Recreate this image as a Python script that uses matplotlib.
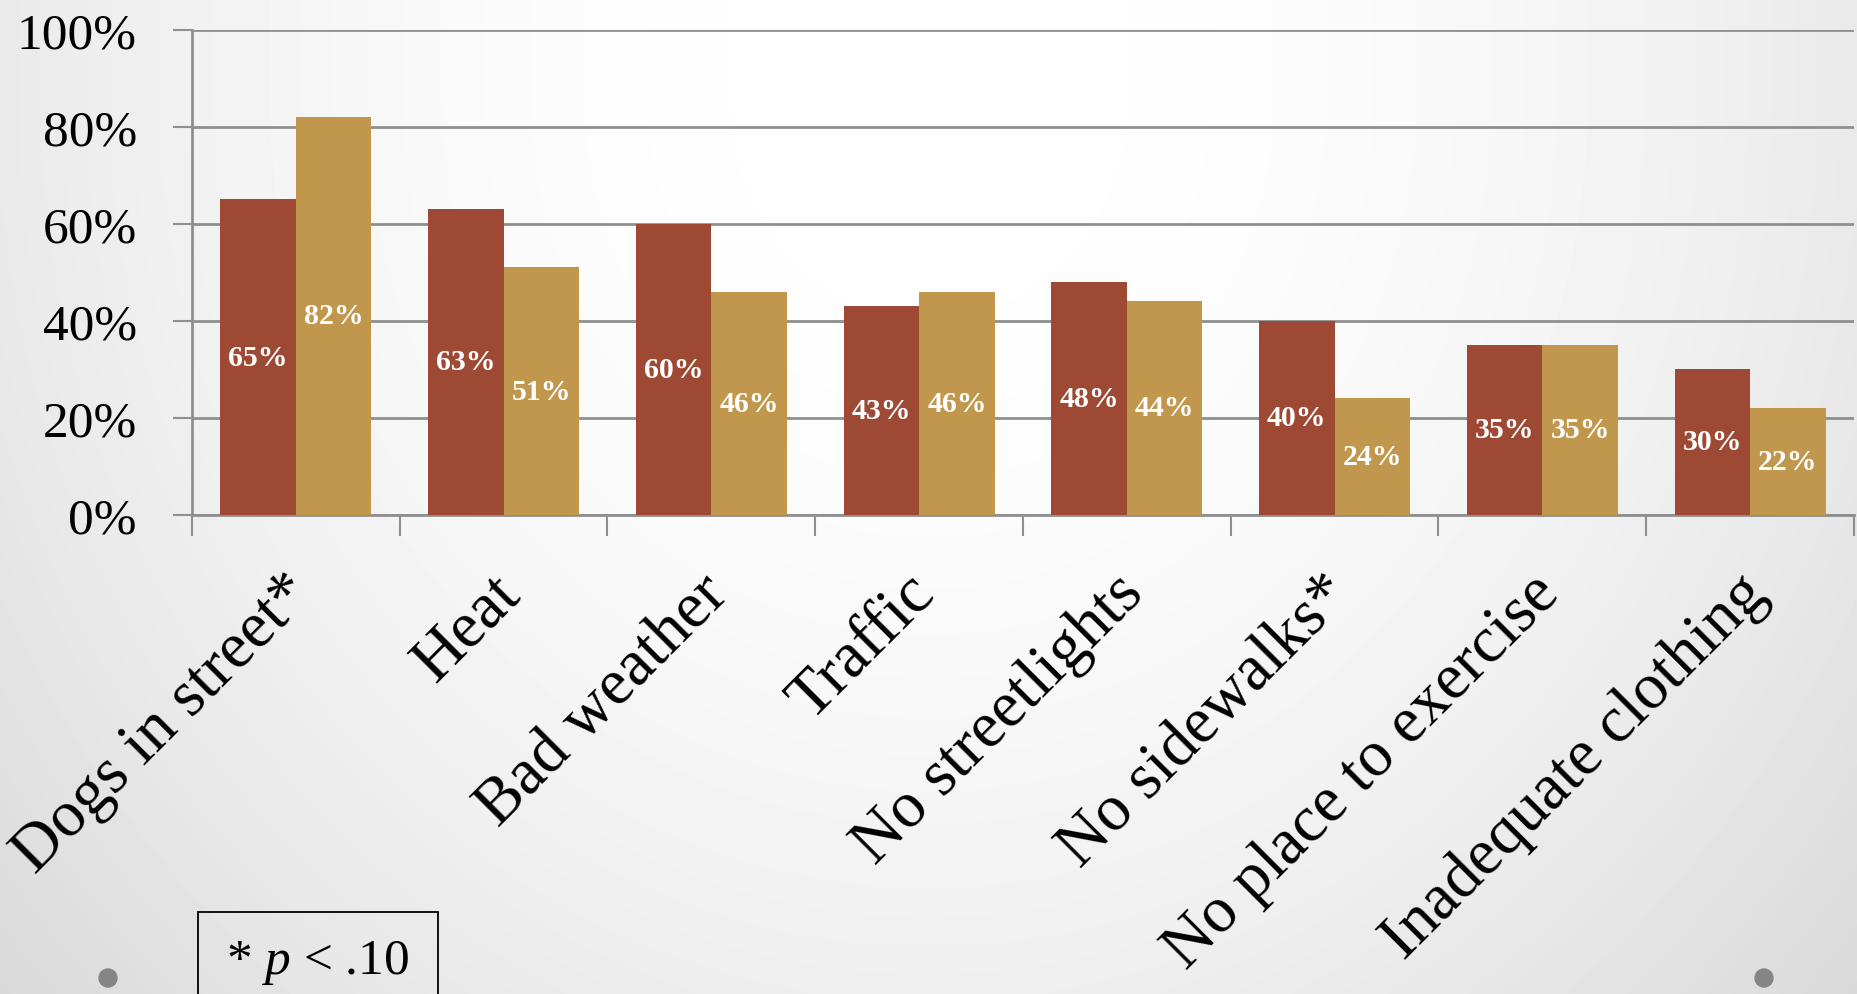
import numpy as np
import matplotlib
matplotlib.use("Agg")
import matplotlib.pyplot as plt
from matplotlib.patches import Rectangle, Ellipse

plt.rcParams["font.family"] = ["Liberation Serif", "DejaVu Serif"]
plt.rcParams["mathtext.fontset"] = "custom"
plt.rcParams["mathtext.rm"] = "Liberation Serif"
plt.rcParams["mathtext.it"] = "Liberation Serif:italic"

# barriers to walking, share reporting each one (two groups)
categories = ["Dogs in street*", "Heat", "Bad weather", "Traffic",
              "No streetlights", "No sidewalks*", "No place to exercise",
              "Inadequate clothing"]
group_a = [65, 63, 60, 43, 48, 40, 35, 30]
group_b = [82, 51, 46, 46, 44, 24, 35, 22]
yticks = [0, 20, 40, 60, 80, 100]

RED = "#9d4934"
GOLD = "#c0974d"
GRID = "#8f8f8f"

W, H = 1858, 995
fig = plt.figure(figsize=(W / 100, H / 100), dpi=100)

# soft grey backdrop, lighter toward the top centre
bg = fig.add_axes([0, 0, 1, 1], zorder=-10)
yy, xx = np.mgrid[0:1:200j, 0:1:372j]
dx = (xx - 0.5) / 0.5
dy = np.clip((yy - 0.1) / 0.9, 0, None)
shade = 1 - 0.085 * dx ** 2 - 0.065 * dy ** 2
bg.imshow(shade, cmap="gray", vmin=0, vmax=1, aspect="auto",
          extent=[0, 1, 1, 0], interpolation="bilinear")
bg.set_xlim(0, 1); bg.set_ylim(1, 0)
bg.axis("off")

ax = fig.add_axes([192 / W, 1 - 515.7 / H, (1854 - 192) / W, (515.7 - 30.7) / H])
ax.set_facecolor("none")

x = np.arange(len(categories)) + 0.5
bw = 0.3635
ax.bar(x - bw / 2, np.array(group_a) / 100, bw, color=RED, zorder=3)
ax.bar(x + bw / 2, np.array(group_b) / 100, bw, color=GOLD, zorder=3)

for xi, a, b in zip(x, group_a, group_b):
    ax.text(xi - bw / 2, a / 200, f"{a}%", ha="center", va="center",
            color="white", fontsize=21.5, fontweight="bold", zorder=4)
    ax.text(xi + bw / 2, b / 200, f"{b}%", ha="center", va="center",
            color="white", fontsize=21.5, fontweight="bold", zorder=4)

ax.set_xlim(0, len(categories))
ax.set_ylim(0, 1)
ax.set_yticks([v / 100 for v in yticks])
ax.set_yticklabels([f"{v}%" for v in yticks], fontsize=37)
ax.yaxis.grid(True, color=GRID, linewidth=2, zorder=1)
ax.set_axisbelow(True)

# boundaries carry the tick marks; slanted names hang just right of centre
ax.set_xticks(np.arange(len(categories) + 1))
ax.set_xticklabels([])
ax.set_xticks(x + 0.035, categories, minor=True)
for lbl in ax.get_xticklabels(minor=True):
    lbl.set_rotation(45)
    lbl.set_ha("right")
    lbl.set_va("center")
    lbl.set_rotation_mode("anchor")
    lbl.set_fontsize(47)

ax.tick_params(axis="x", which="major", length=15, width=1.5, color=GRID)
ax.tick_params(axis="x", which="minor", length=0, pad=50)
ax.tick_params(axis="y", length=13.7, width=1.5, color=GRID, pad=26)

for side in ("top", "right"):
    ax.spines[side].set_visible(False)
ax.spines["left"].set_color(GRID)
ax.spines["left"].set_linewidth(2)
ax.spines["bottom"].set_color(GRID)
ax.spines["bottom"].set_linewidth(2)

# significance note in a box at the lower left
fig.add_artist(Rectangle((198 / W, -0.05), 240 / W, 0.05 + 1 - 912.5 / H,
                         transform=fig.transFigure, fill=False,
                         edgecolor="black", linewidth=1.3))
fig.text(318 / W, 1 - 974 / H, r"* $p$ < .10", ha="center", va="baseline",
         fontsize=37)

# slide bullets
for cx in (108, 1764):
    fig.add_artist(Ellipse((cx / W, 1 - 979 / H), 18 / W, 18 / H,
                           transform=fig.transFigure, color="#858585"))

fig.savefig("out.png", dpi=100)
